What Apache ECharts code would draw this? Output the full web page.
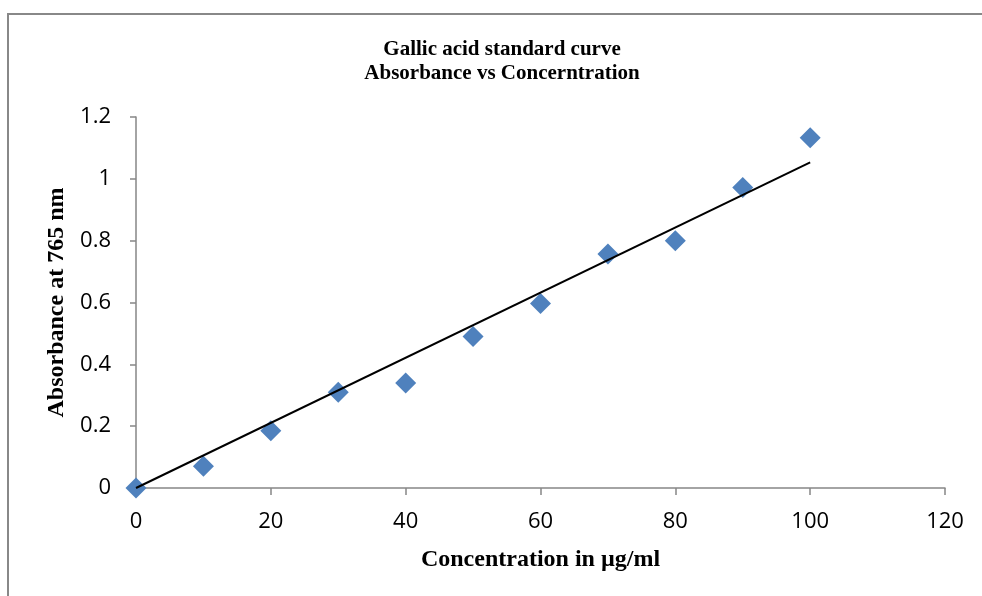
<!DOCTYPE html>
<html>
<head>
<meta charset="utf-8">
<script src="https://cdn.jsdelivr.net/npm/echarts@6/dist/echarts.min.js"></script>
<style>html,body{margin:0;padding:0;background:#fff}#c{width:982px;height:596px}</style>
</head>
<body>
<div id="c"></div>
<script>
const concentration = [0, 10, 20, 30, 40, 50, 60, 70, 80, 90, 100];
const absorbance = [0, 0.07, 0.185, 0.31, 0.34, 0.49, 0.597, 0.757, 0.80, 0.972, 1.133];
const titleLines = ['Gallic acid standard curve', 'Absorbance vs Concerntration'];
const xTitle = 'Concentration in µg/ml';
const yTitle = 'Absorbance at 765 nm';

// Linear trendline through origin (least squares)
let sxy = 0, sxx = 0;
concentration.forEach((x, i) => { sxy += x * absorbance[i]; sxx += x * x; });
const slope = sxy / sxx;
const xMinData = Math.min(...concentration), xMaxData = Math.max(...concentration);
const trend = [[xMinData, slope * xMinData], [xMaxData, slope * xMaxData]];

const chart = echarts.init(document.getElementById('c'));
const tickFont = {fontFamily: '"Open Sans", Lato, sans-serif', fontSize: 22, color: '#000'};
chart.setOption({
  animation: false,
  backgroundColor: '#fff',
  title: {
    text: titleLines.join('\n'),
    left: 497, top: 33, textAlign: 'center',
    textStyle: {fontFamily: '"Liberation Serif", "Times New Roman", serif', fontWeight: 'bold', fontSize: 21, lineHeight: 24, color: '#000'}
  },
  graphic: [{
    type: 'rect', shape: {x: 8, y: 14, width: 990, height: 600},
    style: {fill: 'none', stroke: '#888', lineWidth: 2}, silent: true, z: -1
  }],
  grid: {left: 136, right: 37, top: 117, bottom: 108, containLabel: false},
  xAxis: {
    type: 'value', min: 0, max: 120, interval: 20,
    name: xTitle, nameLocation: 'middle', nameGap: 60,
    nameTextStyle: {fontFamily: '"Liberation Serif", "Times New Roman", serif', fontWeight: 'bold', fontSize: 24, color: '#000'},
    axisLine: {show: true, lineStyle: {color: '#868686', width: 1.5}},
    axisTick: {show: true, length: 7, lineStyle: {color: '#868686', width: 1.5}},
    axisLabel: Object.assign({margin: 23}, tickFont),
    splitLine: {show: false}
  },
  yAxis: {
    type: 'value', min: 0, max: 1.2, interval: 0.2,
    name: yTitle, nameLocation: 'middle', nameGap: 57, nameRotate: 90,
    nameTextStyle: {fontFamily: '"Liberation Serif", "Times New Roman", serif', fontWeight: 'bold', fontSize: 24, color: '#000'},
    axisLine: {show: true, lineStyle: {color: '#868686', width: 1.5}},
    axisTick: {show: true, length: 6, lineStyle: {color: '#868686', width: 1.5}},
    axisLabel: Object.assign({margin: 25, formatter: v => String(+v.toFixed(1))}, tickFont),
    splitLine: {show: false}
  },
  series: [
    {
      type: 'line', data: trend, symbol: 'none', z: 3,
      lineStyle: {color: '#000', width: 2}
    },
    {
      type: 'scatter', data: concentration.map((x, i) => [x, absorbance[i]]),
      symbol: 'diamond', symbolSize: [21, 21], z: 2,
      itemStyle: {color: '#4F81BD', opacity: 1}
    }
  ]
});
</script>
</body>
</html>
